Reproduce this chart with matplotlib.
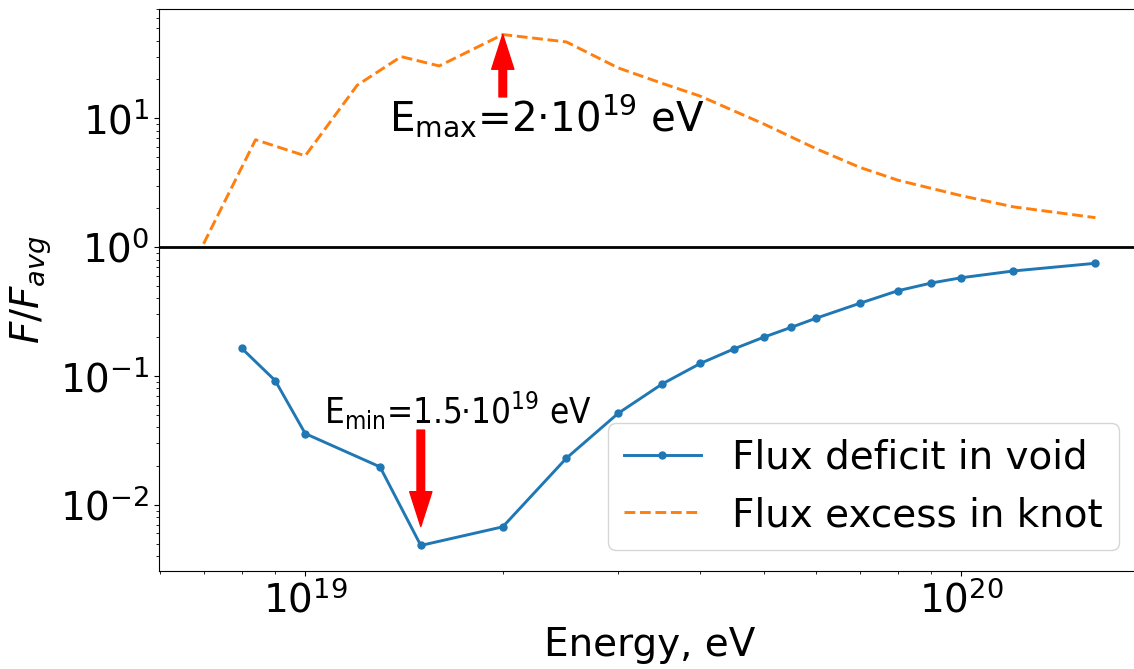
import numpy as np
import matplotlib.pyplot as plt

# Flux deficit in void (blue)
void_energy = [8e18, 9e18, 1e19, 1.3e19, 1.5e19, 2e19, 2.5e19, 3e19, 3.5e19, 4e19,
               4.5e19, 5e19, 5.5e19, 6e19, 7e19, 8e19, 9e19, 1e20, 1.2e20, 1.6e20]
void_flux = [0.164, 0.092, 0.0357, 0.0197, 0.00484, 0.00675, 0.023, 0.0514, 0.0867, 0.125,
             0.162, 0.200, 0.238, 0.280, 0.366, 0.458, 0.526, 0.578, 0.652, 0.748]

# Flux excess in knot (orange)
knot_energy = [7e18, 8.4e18, 1e19, 1.2e19, 1.4e19, 1.6e19, 2e19, 2.5e19, 3e19, 3.5e19,
               4e19, 5e19, 6e19, 7e19, 8e19, 9e19, 1e20, 1.2e20, 1.6e20]
knot_flux = [1.06, 6.8, 5.1, 18.0, 30.0, 25.4, 44.5, 39.0, 24.5, 18.6,
             14.8, 9.0, 5.8, 4.15, 3.3, 2.85, 2.5, 2.05, 1.69]

e_min = 1.5e19
e_max = 2e19

plt.rcParams['font.size'] = 28

fig = plt.figure(figsize=(11.34, 6.69), dpi=100)
# right spine sits just past the picture edge, as in the cropped original
ax = fig.add_axes([159 / 1134, 98 / 669, 981 / 1134, 562 / 669])

ax.plot(void_energy, void_flux, '.-', color='#1f77b4', lw=2.1, ms=10,
        label='Flux deficit in void')
ax.plot(knot_energy, knot_flux, '--', color='#ff7f0e', lw=2.1,
        label='Flux excess in knot')
ax.axhline(1, color='k', lw=2)

ax.set_xscale('log')
ax.set_yscale('log')
ax.set_xlabel('Energy, eV')
ax.set_ylabel('$F/F_{avg}$')

# arrows marking the extremes
arrow = dict(facecolor='red', edgecolor='red', width=5.5, headwidth=16, headlength=25, shrink=0)
ax.annotate('', xy=(e_max, 44.5), xytext=(e_max, 14.6), arrowprops=arrow)
ax.annotate('', xy=(e_min, 0.0068), xytext=(e_min, 0.038), arrowprops=arrow)

ax.text(1.34e19, 8.07, r'E$_\mathrm{max}$=2·10$^{19}$ eV', fontsize=29, va='baseline')
ax.text(1.067e19, 0.0425, r'E$_{\mathdefault{min}}$=1.5·10$^{\mathdefault{19}}$ eV',
        fontsize=25, va='baseline',
        family=['DejaVu Sans Condensed', 'DejaVu Sans'], stretch='condensed')

ax.legend(loc='lower right', borderaxespad=0.55)

fig.savefig('out.png', dpi=100)
